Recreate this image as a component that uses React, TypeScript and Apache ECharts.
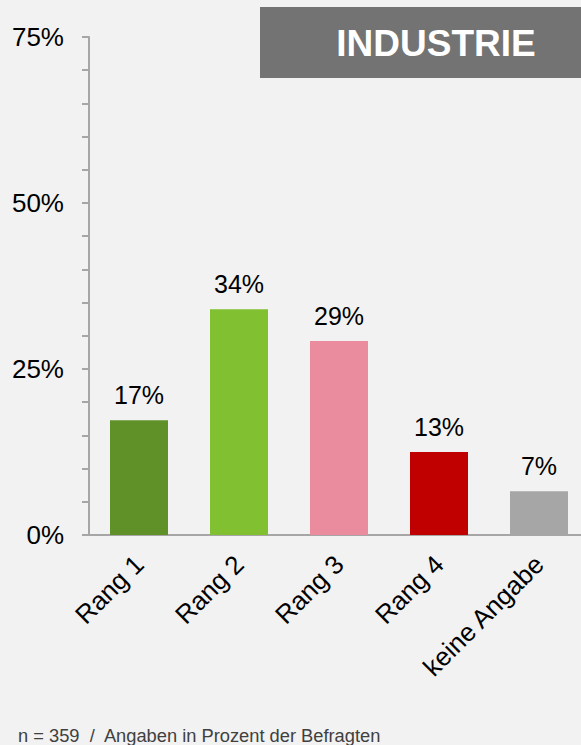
import React, { useEffect, useRef } from "react";
import * as echarts from "echarts";

const categories = ["Rang 1", "Rang 2", "Rang 3", "Rang 4", "keine Angabe"];
const values = [17.3, 34.0, 29.2, 12.5, 6.6];
const barColors = ["#5f9128", "#80c031", "#eb8c9e", "#c00000", "#a6a6a6"];
const yTicks = [0, 25, 50, 75];
const titleText = "INDUSTRIE";
const footnote = "n = 359  /  Angaben in Prozent der Befragten";

export default function App() {
  const ref = useRef<HTMLDivElement>(null);
  useEffect(() => {
    if (!ref.current) return;
    const chart = echarts.init(ref.current, null, { renderer: "svg" });
    const font = "Liberation Sans, Arial, sans-serif";
    chart.setOption({
      animation: false,
      backgroundColor: "#f2f2f2",
      textStyle: { fontFamily: font },
      grid: {
        left: 89,
        top: 37,
        width: 500,
        height: 498,
        containLabel: false,
        outerBoundsMode: "none",
      },
      xAxis: {
        type: "category",
        data: categories,
        axisLine: { show: true, lineStyle: { color: "#a6a6a6", width: 2 } },
        axisTick: { show: false },
        axisLabel: {
          rotate: 45,
          fontSize: 26,
          color: "#000",
          fontFamily: font,
          margin: 25,
          interval: 0,
        },
      },
      yAxis: {
        type: "value",
        min: yTicks[0],
        max: yTicks[yTicks.length - 1],
        interval: 25,
        axisLine: { show: true, lineStyle: { color: "#a6a6a6", width: 2 } },
        axisTick: { show: true, length: 7, lineStyle: { color: "#a6a6a6", width: 2 } },
        minorTick: { show: true, splitNumber: 5, length: 7, lineStyle: { color: "#a6a6a6", width: 2 } },
        splitLine: { show: false },
        axisLabel: {
          formatter: "{value}%",
          fontSize: 26,
          color: "#000",
          fontFamily: font,
          margin: 25,
        },
      },
      series: [
        {
          type: "bar",
          barWidth: 58,
          data: values.map((v, i) => ({ value: v, itemStyle: { color: barColors[i] } })),
          label: {
            show: true,
            position: "top",
            distance: 13,
            fontSize: 25,
            color: "#000",
            fontFamily: font,
            formatter: (p: any) => Math.round(p.value) + "%",
          },
        },
      ],
      graphic: [
        {
          type: "rect",
          shape: { x: 260, y: 7, width: 340, height: 71 },
          style: { fill: "#737373" },
          z: 10,
        },
        {
          type: "text",
          x: 436,
          y: 43,
          z: 11,
          style: {
            text: titleText,
            fill: "#ffffff",
            font: "bold 37px Liberation Sans, Arial, sans-serif",
            textAlign: "center",
            textVerticalAlign: "middle",
          },
        },
        {
          type: "text",
          x: 18,
          y: 735,
          style: {
            text: footnote,
            fill: "#404040",
            font: "18.3px Liberation Sans, Arial, sans-serif",
            textAlign: "left",
            textVerticalAlign: "middle",
          },
        },
      ],
    });
    return () => chart.dispose();
  }, []);
  return (
    <div
      ref={ref}
      style={{ position: "fixed", left: 0, top: 0, width: 581, height: 745, background: "#f2f2f2" }}
    />
  );
}
